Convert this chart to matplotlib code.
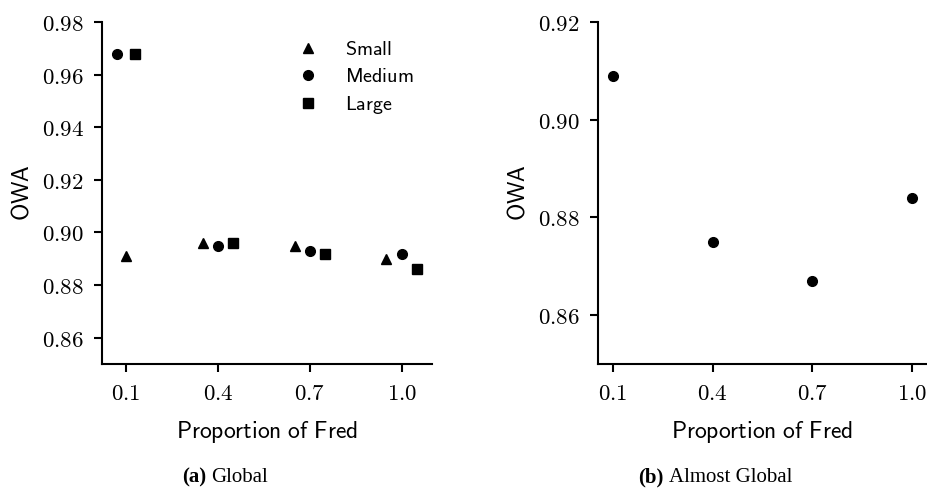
import matplotlib.pyplot as plt
from matplotlib.ticker import FuncFormatter

plt.rcParams['mathtext.fontset'] = 'cm'

# (a) Global
small_x = [0.10, 0.35, 0.65, 0.95]
small_y = [0.891, 0.896, 0.895, 0.890]
medium_x = [0.07, 0.40, 0.70, 1.00]
medium_y = [0.968, 0.895, 0.893, 0.892]
large_x = [0.13, 0.45, 0.75, 1.05]
large_y = [0.968, 0.896, 0.892, 0.886]

# (b) Almost Global
ag_x = [0.1, 0.4, 0.7, 1.0]
ag_y = [0.909, 0.875, 0.867, 0.884]

xticks = [0.1, 0.4, 0.7, 1.0]
yticks_a = [0.86, 0.88, 0.90, 0.92, 0.94, 0.96, 0.98]
yticks_b = [0.86, 0.88, 0.90, 0.92]

fig = plt.figure(figsize=(9.28, 4.88), dpi=100)
W, H = 928, 488
ax1 = fig.add_axes([102 / W, 1 - 364 / H, 330 / W, 342 / H])
ax2 = fig.add_axes([598 / W, 1 - 364 / H, 329 / W, 342 / H])

ax1.plot(small_x, small_y, '^', color='black', ms=7.5, label=r'$\mathsf{Small}$', linestyle='none')
ax1.plot(medium_x, medium_y, 'o', color='black', ms=7, label=r'$\mathsf{Medium}$', linestyle='none')
ax1.plot(large_x, large_y, 's', color='black', ms=6.5, label=r'$\mathsf{Large}$', linestyle='none')
ax2.plot(ag_x, ag_y, 'o', color='black', ms=7, linestyle='none')

ax1.set_ylim(0.85, 0.98)
ax2.set_ylim(0.85, 0.92)
ax1.set_yticks(yticks_a)
ax2.set_yticks(yticks_b)

fmt2 = FuncFormatter(lambda v, p: r'$%.2f$' % v)
fmt1 = FuncFormatter(lambda v, p: r'$%.1f$' % v)
for ax in (ax1, ax2):
    ax.set_xticks(xticks)
    ax.xaxis.set_major_formatter(fmt1)
    ax.yaxis.set_major_formatter(fmt2)
    for s in ('top', 'right'):
        ax.spines[s].set_visible(False)
    for s in ('left', 'bottom'):
        ax.spines[s].set_linewidth(1.5)
    ax.tick_params(width=1.5, length=6, labelsize=16.5, pad=7)
    ax.set_xlabel(r'$\mathsf{Proportion\ of\ Fred}$', fontsize=17, labelpad=10)
    ax.set_ylabel(r'$\mathsf{OWA}$', fontsize=17, labelpad=6)

ax1.legend(loc='upper right', frameon=False, fontsize=14.5,
           handletextpad=0.85, labelspacing=0.4, borderaxespad=0.5)

cap = dict(family='Liberation Serif', fontsize=15, va='baseline')
fig.text(182 / W, 1 - 482 / H, '(a)', weight='bold', ha='left', **cap)
fig.text(211 / W, 1 - 482 / H, 'Global', ha='left', **cap)
fig.text(638 / W, 1 - 482 / H, '(b)', weight='bold', ha='left', **cap)
fig.text(669 / W, 1 - 482 / H, 'Almost Global', ha='left', **cap)

fig.savefig('out.png', dpi=100)
